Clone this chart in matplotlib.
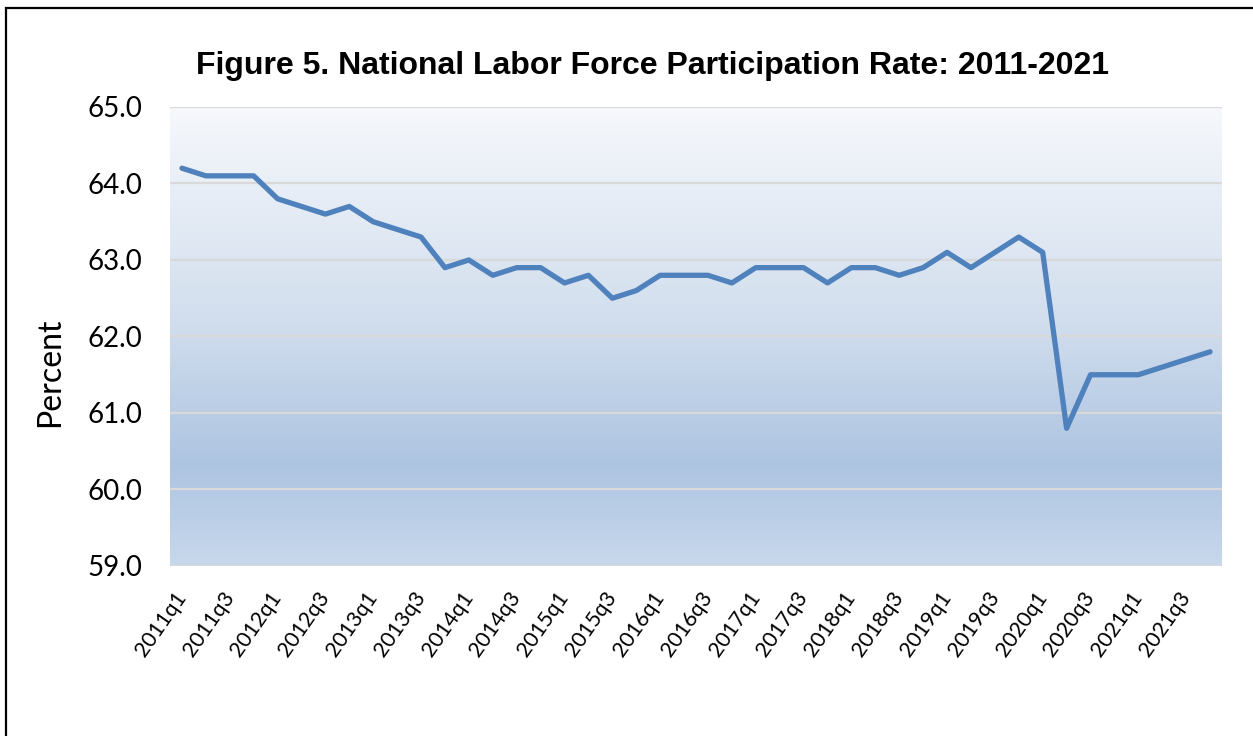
import matplotlib
matplotlib.use('Agg')
import matplotlib.pyplot as plt
import numpy as np
from matplotlib.colors import LinearSegmentedColormap
from matplotlib.patches import Rectangle

# Quarterly labor force participation rate, 2011q1 - 2021q4
years = list(range(2011, 2022))
quarters = [f"{y}q{q}" for y in years for q in (1, 2, 3, 4)]
rate = [64.2, 64.1, 64.1, 64.1,
        63.8, 63.7, 63.6, 63.7,
        63.5, 63.4, 63.3, 62.9,
        63.0, 62.8, 62.9, 62.9,
        62.7, 62.8, 62.5, 62.6,
        62.8, 62.8, 62.8, 62.7,
        62.9, 62.9, 62.9, 62.7,
        62.9, 62.9, 62.8, 62.9,
        63.1, 62.9, 63.1, 63.3,
        63.1, 60.8, 61.5, 61.5,
        61.5, 61.6, 61.7, 61.8]
y_ticks = [59.0, 60.0, 61.0, 62.0, 63.0, 64.0, 65.0]

W, H = 1253, 736
fig = plt.figure(figsize=(W / 100, H / 100), dpi=100)
ax = fig.add_axes([170 / W, 1 - 566 / H, (1222 - 170) / W, (566 - 107) / H])

# gradient plot area background (light at top, darkest near bottom)
grad = LinearSegmentedColormap.from_list(
    'bg', [(0.0, '#F6F8FC'), (0.45, '#D3DFEE'), (0.78, '#ADC4E1'), (1.0, '#C8D8EC')])
g = np.linspace(0, 1, 256).reshape(-1, 1)
ax.imshow(g, cmap=grad, aspect='auto', extent=[0, 1, 0, 1],
          transform=ax.transAxes, zorder=0, interpolation='bicubic')

x = np.arange(len(quarters))
ax.plot(x, rate, color='#4F81BD', lw=3.8, solid_joinstyle='round',
        solid_capstyle='round', zorder=3)

ax.set_xlim(-0.5, len(quarters) - 0.5)
ax.set_ylim(59, 65)
ax.set_yticks(y_ticks)
ax.set_yticklabels([f"{v:.1f}" for v in y_ticks], fontsize=20, family='Lato')
for v in y_ticks:
    ax.axhline(v, color='#D9D9D9', lw=1.6, zorder=1)

ax.set_xticks(x[::2])
ax.set_xticklabels(quarters[::2], rotation=55, ha='right', va='center',
                   rotation_mode='anchor', fontsize=15.5, family='Lato')
ax.tick_params(axis='x', length=0, pad=20)
ax.tick_params(axis='y', length=0, pad=20)
for s in ax.spines.values():
    s.set_visible(False)

fig.text(50 / W, 1 - 372 / H, 'Percent', rotation=90, ha='center', va='center',
         fontsize=23, family='Lato')
fig.text(653 / W, 1 - 66 / H,
         'Figure 5. National Labor Force Participation Rate: 2011-2021',
         ha='center', va='center', fontsize=23, fontweight='bold',
         family='Liberation Sans')

# outer frame (runs off the right and bottom edges)
fig.patches.append(Rectangle((6 / W, -0.1), 1.2, 1 - 8 / H + 0.1,
                             transform=fig.transFigure, fill=False,
                             edgecolor='black', lw=1.6))

fig.savefig('out.png', dpi=100)
